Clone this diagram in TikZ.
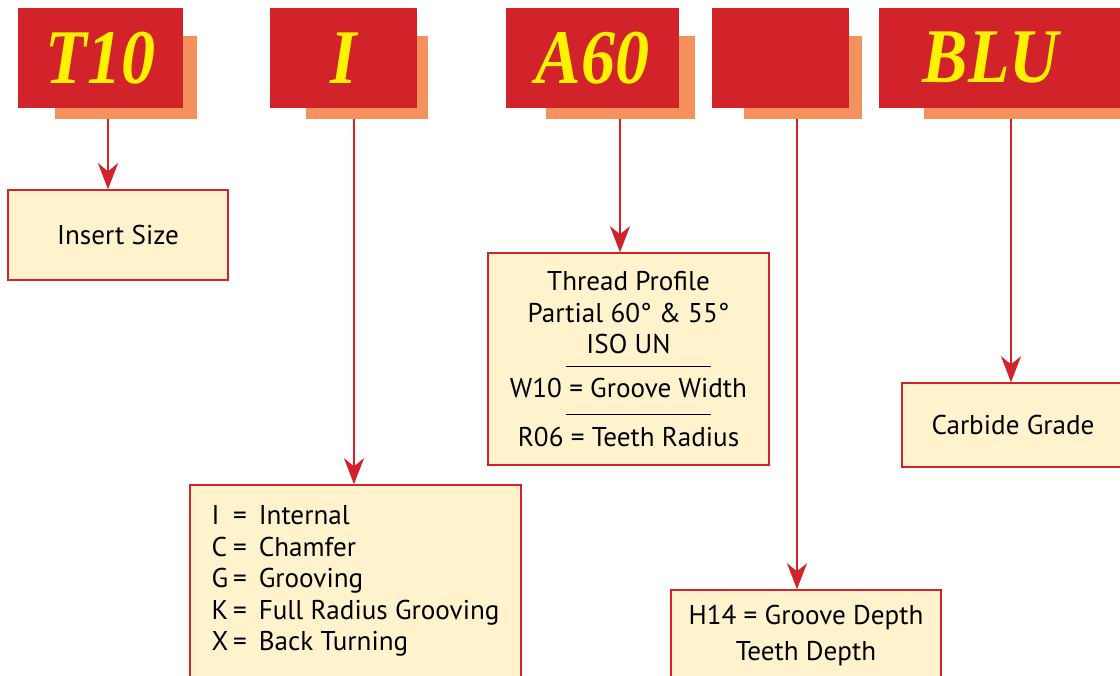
\documentclass[tikz,border=0pt]{standalone}
\usepackage{fontspec}
\setmainfont{PT Sans}
\newfontfamily\codefont[FakeStretch=0.88]{Liberation Serif}
\usetikzlibrary{arrows.meta}
\definecolor{boxred}{HTML}{D2232A}
\definecolor{shadoworange}{HTML}{F5915C}
\definecolor{paleyellow}{HTML}{FEF3CC}
\definecolor{codeyellow}{HTML}{FFF200}

\begin{document}
\begin{tikzpicture}[x=0.025cm, y=-0.025cm,
  codebox/.style={fill=boxred, text=codeyellow, minimum height=2.5cm, inner sep=0pt, font=\codefont\bfseries\itshape\fontsize{55}{60}\selectfont},
  shadowbox/.style={fill=shadoworange, minimum height=2.075cm, inner sep=0pt},
  descbox/.style={draw=boxred, fill=paleyellow, line width=0.035cm, inner sep=0pt, align=center, font=\fontsize{19.3}{22.4}\selectfont},
  arr/.style={draw=boxred, line width=0.04cm, -{Stealth[length=0.65cm,width=0.5cm,inset=0.2cm]}}]
\clip (0,0) rectangle (1120,676);
% Shadows
\node[shadowbox, minimum width=3.55cm] (t10sh) at (126,77.5) {};
\node[shadowbox, minimum width=3.05cm] (ish) at (367,77.5) {};
\node[shadowbox, minimum width=3.725cm] (a60sh) at (620.5,77.5) {};
\node[shadowbox, minimum width=2.95cm] (blanksh) at (803,77.5) {};
\node[shadowbox, minimum width=5.4cm] (blush) at (1032,77.5) {};
% Code boxes
\node[codebox, minimum width=4.125cm] (t10) at (100.5,58) {T10};
\node[codebox, minimum width=3.675cm] (ibox) at (343.5,58) {I};
\node[codebox, minimum width=4.325cm] (a60) at (592.5,58) {A60};
\node[codebox, minimum width=3.425cm] (blank) at (780.5,58) {};
\node[codebox, minimum width=6.525cm] (blu) at (1009.5,58) {\hspace*{-0.925cm}BLU};
% Descriptions
\node[descbox, minimum width=5.5cm, minimum height=2.25cm] (size) at (118,235) {Insert Size};
\node[descbox, minimum width=8.275cm, minimum height=4.825cm] (types) at (355.5,581.5) {%
  \begin{tabular}{@{}l@{\hspace{0.12cm}}l@{\hspace{0.3cm}}l@{}}
  I & = & Internal\\
  C & = & Chamfer\\
  G & = & Grooving\\
  K & = & Full Radius Grooving\\
  X & = & Back Turning
  \end{tabular}};
\node[descbox, minimum width=7.025cm, minimum height=5.3cm] (profile) at (628.5,359) {Thread Profile\\Partial 60° \& 55°\\ISO UN\\[-0.475cm]\hspace*{0.5cm}\rule{3.625cm}{0.6pt}\\[0cm]W10 = Groove Width\\[-0.37cm]\hspace*{0.5cm}\rule{3.625cm}{0.6pt}\\R06 = Teeth Radius};
\node[descbox, minimum width=6.75cm, minimum height=2.2875cm] (depth) at (806,635.75) {H14 = Groove Depth\\[0.11cm]Teeth Depth};
\node[descbox, minimum width=5.55cm, minimum height=2.1cm] (grade) at (1013,425) {Carbide Grade};
% Arrow columns
\coordinate (c1) at (108,0);
\coordinate (c2) at (354,0);
\coordinate (c3) at (620,0);
\coordinate (c4) at (797,0);
\coordinate (c5) at (1011,0);
% Arrows
\draw[arr] (t10sh.south -| c1) -- (size.north -| c1);
\draw[arr] (ish.south -| c2) -- (types.north -| c2);
\draw[arr] (a60sh.south -| c3) -- (profile.north -| c3);
\draw[arr] (blanksh.south -| c4) -- (depth.north -| c4);
\draw[arr] (blush.south -| c5) -- (grade.north -| c5);
\end{tikzpicture}
\end{document}
